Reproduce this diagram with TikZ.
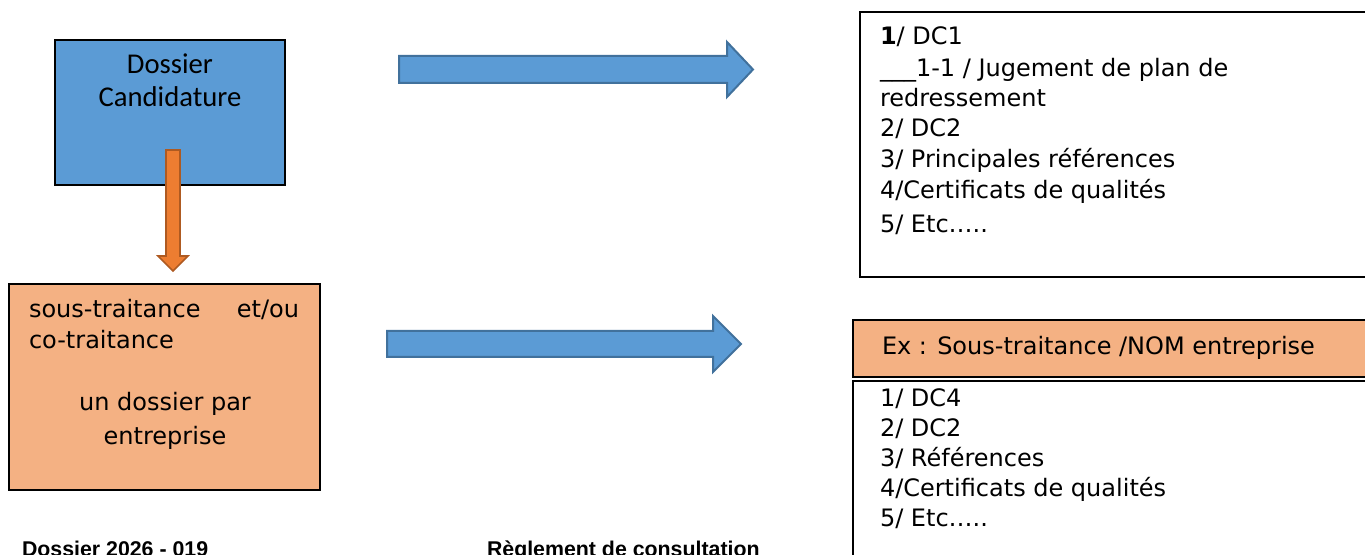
\documentclass[tikz,border=0pt]{standalone}
\usepackage{fontspec}
\setmainfont{DejaVu Sans}
\newfontfamily\carl{Carlito}
\newfontfamily\arl{Liberation Sans}
\definecolor{bluefill}{HTML}{5B9BD5}
\definecolor{blueedge}{HTML}{41719C}
\definecolor{orangefill}{HTML}{ED7D31}
\definecolor{orangeedge}{HTML}{AE5A21}
\definecolor{peach}{HTML}{F4B183}
\tikzset{
  box/.style={draw=black, line width=0.9pt, inner sep=0pt, outer sep=0pt, anchor=north west},
  txt/.style={inner sep=0pt, outer sep=0pt, anchor=base west, font=\fontsize{18pt}{21.6pt}\selectfont},
  ctxt/.style={txt, anchor=base},
  ctitle/.style={inner sep=0pt, outer sep=0pt, anchor=base, font=\carl\fontsize{21.5pt}{26pt}\selectfont},
  foot/.style={inner sep=0pt, outer sep=0pt, anchor=base west, font=\arl\bfseries\fontsize{16pt}{19pt}\selectfont},
  bigarrow/.style={fill=bluefill, draw=blueedge, line width=1.5pt, line join=miter},
  downarrow/.style={fill=orangefill, draw=orangeedge, line width=1.2pt, line join=miter}
}
\begin{document}
\begin{tikzpicture}[x=0.75pt,y=-0.75pt]
\useasboundingbox (0,0) rectangle (1365,555);
% left boxes
\node[box, fill=bluefill, minimum width=172.5pt, minimum height=108.75pt] (cand) at (55,40) {};
\node[ctitle] (cand1) at (170,74) {Dossier};
\node[ctitle] (cand2) at (170,107) {Candidature};
\node[box, fill=peach, minimum width=233.25pt, minimum height=154.5pt] (sous) at (9,284) {};
\node[txt, text width=202.5pt] (sous1) at (29,318) {sous-traitance\hfill et/ou};
\node[txt] (sous2) at (29,349) {co-traitance};
\node[ctxt] (sous3) at (165,411) {un dossier par};
\node[ctxt] (sous4) at (165,445) {entreprise};
% orange down arrow
\draw[downarrow] (166,150) -- (180,150) -- (180,256) -- (188,256) -- (173,271) -- (158,256) -- (166,256) -- cycle;
% blue arrows
\draw[bigarrow] (399,56) -- (727,56) -- (727,42) -- (753,69.5) -- (727,97) -- (727,83) -- (399,83) -- cycle;
\draw[bigarrow] (387,331) -- (713,331) -- (713,316) -- (741,344) -- (713,372) -- (713,357) -- (387,357) -- cycle;
% right top box
\node[box, fill=white, minimum width=382.5pt, minimum height=198.75pt] (dc) at (860,12) {};
\node[txt] (dc1) at (880,45) {{\bfseries 1}/ DC1};
\node[txt] (dc2) at (880,77) {\_\_\_1-1 / Jugement de plan de};
\node[txt] (dc3) at (880,107) {redressement};
\node[txt] (dc4) at (880,137) {2/ DC2};
\node[txt] (dc5) at (880,168) {3/ Principales références};
\node[txt] (dc6) at (880,199) {4/Certificats de qualités};
\node[txt] (dc7) at (880,233) {5/ Etc…..};
% right bottom boxes
\node[box, fill=peach, minimum width=387.75pt, minimum height=42.75pt] (ex) at (853,320) {};
\node[txt] (ex1) at (882,355) {Ex : Sous-traitance /NOM entreprise};
\node[box, fill=white, minimum width=387.75pt, minimum height=135pt] (st) at (853,381) {};
\node[txt] (st1) at (880,407) {1/ DC4};
\node[txt] (st2) at (880,437) {2/ DC2};
\node[txt] (st3) at (880,467) {3/ Références};
\node[txt] (st4) at (880,497) {4/Certificats de qualités};
\node[txt] (st5) at (880,527) {5/ Etc…..};
% footer
\node[foot] (f1) at (22,557) {Dossier 2026 - 019};
\node[foot] (f2) at (487,557) {Règlement de consultation};
\end{tikzpicture}
\end{document}
